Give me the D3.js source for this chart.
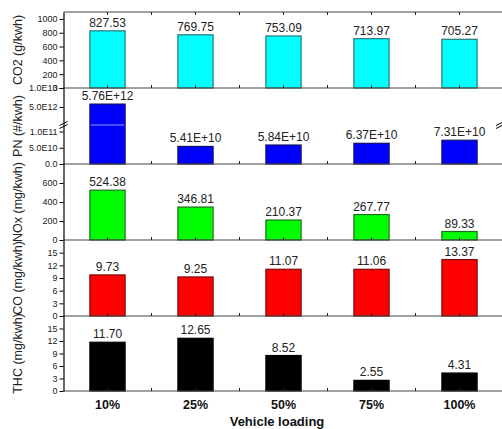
<!DOCTYPE html>
<html><head><meta charset="utf-8">
<script src="https://cdn.jsdelivr.net/npm/d3@7"></script>
<style>body{margin:0;background:#fff}svg{display:block}svg text{font-family:"Liberation Sans",Arial,sans-serif}</style>
</head><body><svg id="c" width="502" height="429"></svg>
<script>
const categories = ["10%", "25%", "50%", "75%", "100%"];
const co2 = [827.53, 769.75, 753.09, 713.97, 705.27];
const pn = [5.76e12, 5.41e10, 5.84e10, 6.37e10, 7.31e10];
const nox = [524.38, 346.81, 210.37, 267.77, 89.33];
const co = [9.73, 9.25, 11.07, 11.06, 13.37];
const thc = [11.70, 12.65, 8.52, 2.55, 4.31];

const co2Ticks = [0, 200, 400, 600, 800, 1000];
const pnTicks = [0, 5e10, 1e11, 5e12, 1e13];
const pnTickLabels = ["0.0", "5.0E10", "1.0E11", "5.0E12", "1.0E13"];
const noxTicks = [0, 200, 400, 600];
const coTicks = [0, 3, 6, 9, 12, 15];
const thcTicks = [0, 3, 6, 9, 12, 15];
const xTitle = "Vehicle loading";

const FONT = "'Liberation Sans', Arial, sans-serif";
const svg = d3.select("#c");
const L = 63.5, R = 503.5;
const x = d3.scaleBand().domain(categories).range([L, R]).paddingInner(0.6).paddingOuter(0.3);

const f2 = d3.format(".2f");
const fe = d => d3.format(".2e")(d).toUpperCase();

const panels = [
  {title: "CO2 (g/kwh)", values: co2, fill: "#00FFFF", stroke: "#2a7676", top: 12, bottom: 88,
   y: d3.scaleLinear().domain([0, 1100]).range([88, 12]), ticks: co2Ticks, tf: d => d, lf: f2},
  {title: "PN (#/kwh)", values: pn, fill: "#0000FF", stroke: "#10106a", top: 88, bottom: 164,
   y: d3.scaleLinear().domain([0, 1.2e11, 2.5e11, 1e13]).range([164, 125, 125, 88]), ticks: pnTicks,
   tf: (d, i) => pnTickLabels[i], lf: fe, brk: 125},
  {title: "NOx (mg/kwh)", values: nox, fill: "#00FF00", stroke: "#206a20", top: 164, bottom: 240,
   y: d3.scaleLinear().domain([0, 800]).range([240, 164]), ticks: noxTicks, tf: d => d, lf: f2},
  {title: "CO (mg/kwh)", values: co, fill: "#FF0000", stroke: "#7a0a0a", top: 240, bottom: 316,
   y: d3.scaleLinear().domain([0, 18]).range([316, 240]), ticks: coTicks, tf: d => d, lf: f2},
  {title: "THC (mg/kwh)", values: thc, fill: "#000000", stroke: "#000000", top: 316, bottom: 391,
   y: d3.scaleLinear().domain([0, 18]).range([391, 316]), ticks: thcTicks, tf: d => d, lf: f2}
];

const centers = categories.map(c => x(c) + x.bandwidth() / 2);
const mids = centers.slice(1).map((c, i) => (centers[i] + c) / 2);

panels.forEach(p => {
  const g = svg.append("g");
  g.selectAll("rect").data(p.values).join("rect")
    .attr("x", (d, i) => x(categories[i]))
    .attr("width", x.bandwidth())
    .attr("y", d => p.y(d))
    .attr("height", d => p.bottom - p.y(d))
    .attr("fill", p.fill)
    .attr("stroke", p.stroke).attr("stroke-width", 1.2);
  if (p.brk) {
    g.append("line").attr("x1", x(categories[0]) + 1).attr("x2", x(categories[0]) + x.bandwidth() - 1)
      .attr("y1", p.brk).attr("y2", p.brk).attr("stroke", "#ffffff").attr("stroke-width", 1).attr("opacity", 0.6);
  }
  g.selectAll("text.v").data(p.values).join("text").attr("class", "v")
    .attr("x", (d, i) => x(categories[i]) + x.bandwidth() / 2)
    .attr("y", d => p.y(d) - 4)
    .attr("text-anchor", "middle").attr("font-size", 12).attr("fill", "#222")
    .text(d => p.lf(d));
  g.append("line").attr("x1", L).attr("x2", 502).attr("y1", p.bottom).attr("y2", p.bottom)
    .attr("stroke", "#444").attr("stroke-width", 1.2);
  g.selectAll("line.t").data(mids.concat(centers)).join("line").attr("class", "t")
    .attr("x1", d => d).attr("x2", d => d).attr("y1", p.bottom).attr("y2", p.bottom - 3)
    .attr("stroke", "#222");
  const ax = d3.axisLeft(p.y).tickValues(p.ticks).tickFormat(p.tf).tickSize(4).tickSizeOuter(0);
  const ag = g.append("g").attr("transform", `translate(${L},0)`).call(ax);
  ag.attr("font-family", FONT);
  ag.select(".domain").attr("stroke", "#000").attr("stroke-width", 1.2);
  ag.selectAll(".tick line").attr("stroke", "#000");
  ag.selectAll(".tick text").attr("font-size", 9).attr("fill", "#222").attr("x", -6);
  svg.append("text").attr("transform", `translate(22,${(p.top + p.bottom) / 2}) rotate(-90)`)
    .attr("text-anchor", "middle").attr("font-size", 12.5).attr("fill", "#222").text(p.title);
  if (p.brk) {
    [L, 500].forEach(bx => {
      [-1.5, 1.5].forEach(o => {
        svg.append("line").attr("x1", bx - 4).attr("x2", bx + 4).attr("y1", p.brk + o + 2).attr("y2", p.brk + o - 2)
          .attr("stroke", "#000").attr("stroke-width", 1);
      });
    });
  }
});

svg.append("line").attr("x1", L).attr("x2", 502).attr("y1", 12).attr("y2", 12).attr("stroke", "#444").attr("stroke-width", 1.2);
svg.selectAll("line.tt").data(mids.concat(centers)).join("line").attr("class", "tt")
  .attr("x1", d => d).attr("x2", d => d).attr("y1", 12).attr("y2", 15).attr("stroke", "#222");

svg.selectAll("text.xl").data(categories).join("text").attr("class", "xl")
  .attr("x", d => x(d) + x.bandwidth() / 2).attr("y", 409)
  .attr("text-anchor", "middle").attr("font-size", 12.5).attr("font-weight", "bold").attr("fill", "#111").text(d => d);
svg.append("text").attr("x", 277).attr("y", 426).attr("text-anchor", "middle")
  .attr("font-size", 13).attr("font-weight", "bold").attr("fill", "#111").text(xTitle);
</script></body></html>
